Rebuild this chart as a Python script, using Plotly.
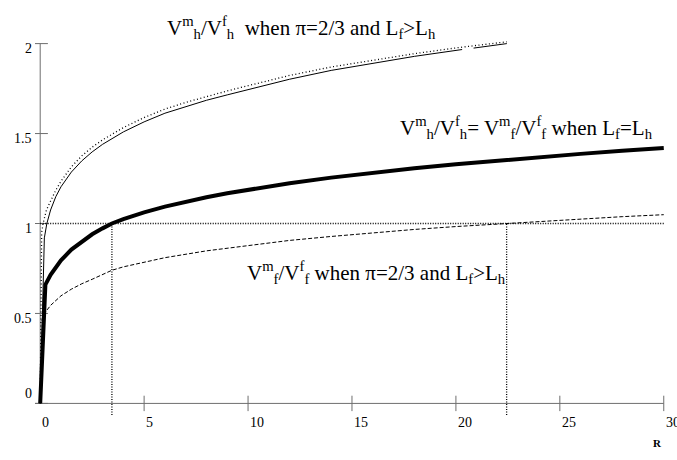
import plotly.graph_objects as go

# ---- data ----
top_solid_x = [0, 0.15, 0.2, 0.32, 0.5, 0.75, 1, 1.5, 2, 2.5, 3, 4, 5, 6, 7, 8, 9, 10, 12, 14, 16, 18, 20.3, 20.6, 20.85, 22.45]
top_solid_y = [0, 0.75, 0.92, 1.0, 1.075, 1.149, 1.204, 1.286, 1.348, 1.398, 1.44, 1.509, 1.565, 1.613, 1.65, 1.685, 1.715, 1.745, 1.802, 1.851, 1.892, 1.929, 1.967, None, 1.975, 2.0]

top_dot_x = [0, 0.07, 0.14, 0.3, 0.5, 0.75, 1, 1.5, 2, 2.5, 3, 4, 5, 6, 7, 8, 9, 10, 12, 14, 16, 18, 20, 22.45]
top_dot_y = [0, 0.95, 1.0, 1.075, 1.125, 1.185, 1.235, 1.315, 1.376, 1.424, 1.465, 1.533, 1.589, 1.636, 1.673, 1.707, 1.737, 1.766, 1.823, 1.87, 1.909, 1.944, 1.976, 2.01]

equal_x = [0, 0.25, 0.5, 0.75, 1, 1.5, 2, 2.5, 3, 3.45, 4, 5, 6, 7, 8, 9, 10, 12, 14, 16, 18, 20, 22, 24, 26, 28, 30]
equal_y = [0, 0.66, 0.715, 0.76, 0.795, 0.855, 0.90, 0.94, 0.973, 1.0, 1.024, 1.062, 1.094, 1.121, 1.146, 1.168, 1.188, 1.224, 1.255, 1.282, 1.307, 1.329, 1.350, 1.369, 1.387, 1.404, 1.419]

foreign_x = [0.08, 0.2, 0.5, 1, 1.5, 2, 2.5, 3, 3.45, 4, 5, 6, 8, 10, 12, 14, 16, 18, 20, 22.44, 24, 26, 28, 30]
foreign_y = [0.46, 0.5, 0.545, 0.598, 0.635, 0.665, 0.69, 0.718, 0.74, 0.759, 0.786, 0.81, 0.848, 0.879, 0.906, 0.928, 0.948, 0.967, 0.983, 1.0, 1.012, 1.025, 1.038, 1.049]

ref_level = 1.0
cross_x = [3.45, 22.44]
x_ticks = [0, 5, 10, 15, 20, 25, 30]
y_ticks = [0, 0.5, 1, 1.5, 2]
y_tick_labels = ["0", "0.5", "1", "1.5", "2"]

label_top = "V<sup>m</sup><sub>h</sub>/V<sup>f</sup><sub>h</sub> &nbsp;when π=2/3 and L<sub>f</sub>&gt;L<sub>h</sub>"
label_mid = "V<sup>m</sup><sub>h</sub>/V<sup>f</sup><sub>h</sub>= V<sup>m</sup><sub>f</sub>/V<sup>f</sup><sub>f</sub> when L<sub>f</sub>=L<sub>h</sub>"
label_low = "V<sup>m</sup><sub>f</sub>/V<sup>f</sup><sub>f</sub> when π=2/3 and L<sub>f</sub>&gt;L<sub>h</sub>"
x_title = "R"

# ---- layout geometry ----
W, H = 677, 460
ML, MR, MT, MB = 35, 7, 40, 44
PW, PH = W - ML - MR, H - MT - MB
X_RANGE = [-0.25, 30.3]
Y_RANGE = [-0.07, 2.02]

def px2paper_x(px):
    return (px - ML) / PW

def py2paper_y(py):
    return (H - MB - py) / PH

FONT = "Liberation Serif"
AXC = "#6e6e6e"

fig = go.Figure()

# axis lines & ticks
fig.add_trace(go.Scatter(x=[X_RANGE[0], x_ticks[-1]], y=[0, 0], mode="lines",
                         line=dict(color=AXC, width=1), hoverinfo="skip"))
fig.add_trace(go.Scatter(x=[0, 0], y=[y_ticks[0], y_ticks[-1]], mode="lines",
                         line=dict(color=AXC, width=1), hoverinfo="skip"))
fig.add_trace(go.Scatter(x=x_ticks[1:], y=[0] * (len(x_ticks) - 1), mode="markers",
                         marker=dict(symbol="line-ns", size=11, line=dict(color=AXC, width=1)),
                         hoverinfo="skip"))
fig.add_trace(go.Scatter(x=[0] * len(y_ticks), y=y_ticks, mode="markers",
                         marker=dict(symbol="line-ew", size=11, line=dict(color=AXC, width=1)),
                         hoverinfo="skip"))

# reference dotted lines
DOT = dict(color="black", width=1.3, dash="1px,1.5px")
fig.add_trace(go.Scatter(x=[0, x_ticks[-1]], y=[ref_level, ref_level], mode="lines",
                         line=DOT, hoverinfo="skip"))
for cx in cross_x:
    fig.add_trace(go.Scatter(x=[cx, cx], y=[Y_RANGE[0] + 0.005, ref_level], mode="lines",
                             line=DOT, hoverinfo="skip"))

# curves
fig.add_trace(go.Scatter(x=top_dot_x, y=top_dot_y, mode="lines",
                         line=dict(color="black", width=1.3, dash="1px,2.5px"), hoverinfo="skip"))
fig.add_trace(go.Scatter(x=top_solid_x, y=top_solid_y, mode="lines", connectgaps=False,
                         line=dict(color="black", width=1), hoverinfo="skip"))
fig.add_trace(go.Scatter(x=foreign_x, y=foreign_y, mode="lines",
                         line=dict(color="black", width=1, dash="4px,2px"), hoverinfo="skip"))
fig.add_trace(go.Scatter(x=equal_x, y=equal_y, mode="lines",
                         line=dict(color="black", width=4), hoverinfo="skip"))

ann = []
# x tick labels
for v in x_ticks:
    ann.append(dict(x=v, y=py2paper_y(422), xref="x", yref="paper", text=str(v),
                    xanchor="left", yanchor="middle", showarrow=False,
                    font=dict(family=FONT, size=14, color="black")))
# y tick labels
for v, t in zip(y_ticks, y_tick_labels):
    ann.append(dict(x=px2paper_x(34), y=v, xref="paper", yref="y", text=t,
                    xanchor="right", yanchor="middle", showarrow=False,
                    yshift=(10 if v == 0 else -5),
                    font=dict(family=FONT, size=14, color="black")))
# curve labels
for txt, cx, cy in [(label_top, 301, 27), (label_mid, 526, 127), (label_low, 376, 272)]:
    ann.append(dict(x=px2paper_x(cx), y=py2paper_y(cy), xref="paper", yref="paper", text=txt,
                    xanchor="center", yanchor="middle", showarrow=False,
                    font=dict(family=FONT, size=21, color="black")))
ann.append(dict(x=px2paper_x(657), y=py2paper_y(443), xref="paper", yref="paper",
                text="<b>" + x_title + "</b>", xanchor="center", yanchor="middle",
                showarrow=False, font=dict(family=FONT, size=11, color="black")))

fig.update_layout(
    width=W, height=H, margin=dict(l=ML, r=MR, t=MT, b=MB),
    paper_bgcolor="white", plot_bgcolor="white", showlegend=False,
    xaxis=dict(range=X_RANGE, visible=False, fixedrange=True),
    yaxis=dict(range=Y_RANGE, visible=False, fixedrange=True),
    annotations=ann,
)

fig.write_html("out.html", config={"displayModeBar": False},
               post_script="document.body.style.margin='0';document.body.style.overflow='hidden';")
